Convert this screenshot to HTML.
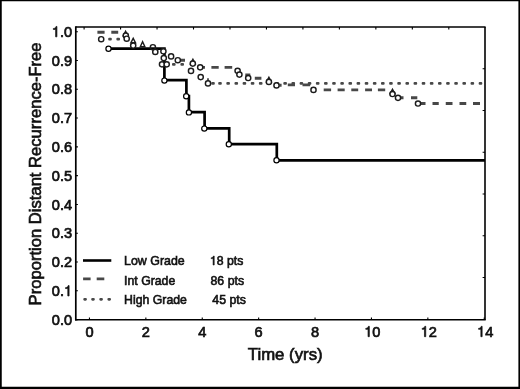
<!DOCTYPE html>
<html><head><meta charset="utf-8"><title>Distant Recurrence-Free</title>
<style>
html,body{margin:0;padding:0;background:#fff;}
body{width:520px;height:389px;overflow:hidden;font-family:"Liberation Sans",sans-serif;}
svg{display:block;filter:grayscale(1);}
text{font-family:"Liberation Sans",sans-serif;fill:#111;}
</style></head><body>
<svg width="520" height="389" viewBox="0 0 520 389">
<rect x="0" y="0" width="520" height="389" fill="#fff"/>
<path d="M0 0H520V389H0Z M1.75 1.3V386.85H518.4V1.3Z" fill="#000" fill-rule="evenodd"/>
<g stroke="#000" fill="none">
<path d="M75.8 26.25V320.55" stroke-width="1.7"/>
<path d="M75.0 319.8H485.7" stroke-width="1.6"/>
<path d="M75.8 27.0H485.6" stroke-width="1.5"/>
<path d="M485.0 27.0V319.8" stroke-width="1.6"/>
<path d="M75.8 319.60h2.1M75.8 290.81h2.1M75.8 262.02h2.1M75.8 233.23h2.1M75.8 204.44h2.1M75.8 175.65h2.1M75.8 146.86h2.1M75.8 118.07h2.1M75.8 89.28h2.1M75.8 60.49h2.1M75.8 31.70h2.1M89.45 319.8v-2.2M145.85 319.8v-2.2M202.25 319.8v-2.2M258.65 319.8v-2.2M315.05 319.8v-2.2M371.45 319.8v-2.2M427.85 319.8v-2.2M484.25 319.8v-2.2M84.10 27.0v2.4M120.57 27.0v2.4M157.04 27.0v2.4M193.51 27.0v2.4M229.98 27.0v2.4M266.45 27.0v2.4M302.92 27.0v2.4M339.39 27.0v2.4M375.86 27.0v2.4M412.33 27.0v2.4M448.80 27.0v2.4M485.0 68.76h-2.4M485.0 110.52h-2.4M485.0 152.28h-2.4M485.0 194.04h-2.4M485.0 235.80h-2.4M485.0 277.56h-2.4" stroke-width="1.1"/>
</g>
<g font-size="14.6" stroke="#111" stroke-width="0.7">
<text x="72.1" y="324.8" text-anchor="end">0.0</text>
<text x="63.98" y="296.0" text-anchor="end">0.</text><path d="M69.09 295.96L67.81 295.96L67.81 288.56L65.50 288.56L65.50 287.64C66.76 287.52 67.81 287.05 68.22 285.56L69.09 285.56Z" fill="#111"/>
<text x="72.1" y="267.2" text-anchor="end">0.2</text>
<text x="72.1" y="238.4" text-anchor="end">0.3</text>
<text x="72.1" y="209.6" text-anchor="end">0.4</text>
<text x="72.1" y="180.8" text-anchor="end">0.5</text>
<text x="72.1" y="152.0" text-anchor="end">0.6</text>
<text x="72.1" y="123.2" text-anchor="end">0.7</text>
<text x="72.1" y="94.4" text-anchor="end">0.8</text>
<text x="72.1" y="65.6" text-anchor="end">0.9</text>
<path d="M56.92 36.85L55.63 36.85L55.63 29.45L53.32 29.45L53.32 28.53C54.58 28.41 55.63 27.94 56.04 26.45L56.92 26.45Z" fill="#111"/><text x="72.1" y="36.9" text-anchor="end">.0</text>
<text x="89.5" y="336.7" text-anchor="middle">0</text>
<text x="145.8" y="336.7" text-anchor="middle">2</text>
<text x="202.2" y="336.7" text-anchor="middle">4</text>
<text x="258.6" y="336.7" text-anchor="middle">6</text>
<text x="315.1" y="336.7" text-anchor="middle">8</text>
<path d="M369.34 336.70L368.06 336.70L368.06 329.30L365.75 329.30L365.75 328.38C367.01 328.26 368.06 327.79 368.47 326.30L369.34 326.30Z" fill="#111"/><text x="372.35" y="336.7">0</text>
<path d="M425.74 336.70L424.46 336.70L424.46 329.30L422.15 329.30L422.15 328.38C423.41 328.26 424.46 327.79 424.87 326.30L425.74 326.30Z" fill="#111"/><text x="428.75" y="336.7">2</text>
<path d="M482.14 336.70L480.86 336.70L480.86 329.30L478.55 329.30L478.55 328.38C479.81 328.26 480.86 327.79 481.27 326.30L482.14 326.30Z" fill="#111"/><text x="485.15" y="336.7">4</text>
</g>
<g font-size="16.2" stroke="#111" stroke-width="0.65">
<text x="285.2" y="360" text-anchor="middle" textLength="74.8" lengthAdjust="spacingAndGlyphs">Time (yrs)</text>
<text transform="translate(40.8,173.9) rotate(-90)" text-anchor="middle" textLength="263.0" lengthAdjust="spacingAndGlyphs">Proportion Distant Recurrence-Free</text>
</g>
<g font-size="12.6" stroke="#111" stroke-width="0.6">
<text x="124.1" y="265" textLength="60.6" lengthAdjust="spacingAndGlyphs">Low Grade</text><path d="M214.21 265.00L213.10 265.00L213.10 258.61L211.11 258.61L211.11 257.82C212.19 257.72 213.10 257.31 213.45 256.03L214.21 256.03Z" fill="#111"/><text x="216.81" y="265" textLength="26.6" lengthAdjust="spacingAndGlyphs">8 pts</text>
<text x="124.1" y="285" textLength="51.2" lengthAdjust="spacingAndGlyphs">Int Grade</text><text x="210.5" y="285" textLength="33.6" lengthAdjust="spacingAndGlyphs">86 pts</text>
<text x="124.1" y="303.9" textLength="62.8" lengthAdjust="spacingAndGlyphs">High Grade</text><text x="212.3" y="303.9" textLength="33.6" lengthAdjust="spacingAndGlyphs">45 pts</text>
</g>
<path d="M83 260.5H111.3" stroke="#000" stroke-width="2.6" fill="none"/>
<path d="M83.1 278.9H90.6M96.7 278.9H104.3" stroke="#484848" stroke-width="2.6" fill="none"/>
<path d="M84.6 299.3h1M92.5 299.3h1M100.6 299.3h1M108.7 299.3h1" stroke="#484848" stroke-width="2.7" stroke-linecap="round" fill="none"/>
<g fill="#484848"><rect x="108.20" y="37.80" width="3.6" height="2.8" rx="1" ry="1"/><rect x="116.40" y="37.80" width="3.6" height="2.8" rx="1" ry="1"/><rect x="172.00" y="62.90" width="3.6" height="2.8" rx="1" ry="1"/><rect x="180.40" y="62.90" width="3.6" height="2.8" rx="1" ry="1"/><rect x="211.20" y="81.90" width="3.6" height="2.8" rx="1" ry="1"/><rect x="218.20" y="81.90" width="3.6" height="2.8" rx="1" ry="1"/><rect x="226.34" y="81.90" width="3.6" height="2.8" rx="1" ry="1"/><rect x="234.48" y="81.90" width="3.6" height="2.8" rx="1" ry="1"/><rect x="242.62" y="81.90" width="3.6" height="2.8" rx="1" ry="1"/><rect x="250.76" y="81.90" width="3.6" height="2.8" rx="1" ry="1"/><rect x="258.90" y="81.90" width="3.6" height="2.8" rx="1" ry="1"/><rect x="267.04" y="81.90" width="3.6" height="2.8" rx="1" ry="1"/><rect x="275.18" y="81.90" width="3.6" height="2.8" rx="1" ry="1"/><rect x="283.32" y="81.90" width="3.6" height="2.8" rx="1" ry="1"/><rect x="291.46" y="81.90" width="3.6" height="2.8" rx="1" ry="1"/><rect x="299.60" y="81.90" width="3.6" height="2.8" rx="1" ry="1"/><rect x="307.74" y="81.90" width="3.6" height="2.8" rx="1" ry="1"/><rect x="315.88" y="81.90" width="3.6" height="2.8" rx="1" ry="1"/><rect x="324.02" y="81.90" width="3.6" height="2.8" rx="1" ry="1"/><rect x="332.16" y="81.90" width="3.6" height="2.8" rx="1" ry="1"/><rect x="340.30" y="81.90" width="3.6" height="2.8" rx="1" ry="1"/><rect x="348.44" y="81.90" width="3.6" height="2.8" rx="1" ry="1"/><rect x="356.58" y="81.90" width="3.6" height="2.8" rx="1" ry="1"/><rect x="364.72" y="81.90" width="3.6" height="2.8" rx="1" ry="1"/><rect x="372.86" y="81.90" width="3.6" height="2.8" rx="1" ry="1"/><rect x="381.00" y="81.90" width="3.6" height="2.8" rx="1" ry="1"/><rect x="389.14" y="81.90" width="3.6" height="2.8" rx="1" ry="1"/><rect x="397.28" y="81.90" width="3.6" height="2.8" rx="1" ry="1"/><rect x="405.42" y="81.90" width="3.6" height="2.8" rx="1" ry="1"/><rect x="413.56" y="81.90" width="3.6" height="2.8" rx="1" ry="1"/><rect x="421.70" y="81.90" width="3.6" height="2.8" rx="1" ry="1"/><rect x="429.84" y="81.90" width="3.6" height="2.8" rx="1" ry="1"/><rect x="437.98" y="81.90" width="3.6" height="2.8" rx="1" ry="1"/><rect x="446.12" y="81.90" width="3.6" height="2.8" rx="1" ry="1"/><rect x="454.26" y="81.90" width="3.6" height="2.8" rx="1" ry="1"/><rect x="462.40" y="81.90" width="3.6" height="2.8" rx="1" ry="1"/><rect x="470.54" y="81.90" width="3.6" height="2.8" rx="1" ry="1"/><rect x="478.68" y="81.90" width="3.6" height="2.8" rx="1" ry="1"/></g>
<path d="M97.4 32.3H104.6M111.3 32.3H118.2M181 60.2H185M203 67.4H205M211.4 67.4H218.7M224.6 67.4H232.2M245.3 74.9H250.3M254.8 78.2H261.4M279.3 85.2H281.6M287.8 84.9H295M302.5 84.9H310.2M323.7 89.9H331.1M337.6 89.9H344.7M351.3 89.9H358.2M365.1 89.9H372M377.9 89.9H385.2M400 97.8H403.5M411 97.8H417.3M420 103.5H425.5M432.5 103.5H438.75M445.75 103.5H452.5M459.5 103.5H466.25M473 103.5H480" stroke="#484848" stroke-width="2.9" fill="none"/>
<path d="M108.5 48.7L164.4 48.7L164.4 80.2L186.4 80.2L186.4 96.2L188.9 96.2L188.9 112.2L204.6 112.2L204.6 128.3L229.2 128.3L229.2 144.2L276.8 144.2L276.8 160.3L485 160.3" stroke="#000" stroke-width="2.7" fill="none" stroke-linejoin="miter"/>
<g fill="#fff" stroke="#1c1c1c" stroke-width="1.45">
<path d="M208 78.2V81"/><path d="M125.6 31.3l2.3 4.4h-4.6z"/><path d="M133.2 38.3l2.3 4.4h-4.6z"/><path d="M142.6 41.8l2.3 5.0h-4.6z"/><path d="M192.9 59.4l2.3 4.4h-4.6z"/><path d="M268.9 77.3l2.3 4.4h-4.6z"/><path d="M392.5 89.3l2.3 4.2h-4.6z"/>
<circle cx="101.2" cy="39.2" r="2.6"/><circle cx="125.8" cy="35.6" r="2.6"/><circle cx="126.7" cy="38.7" r="2.6"/><circle cx="133.2" cy="45.5" r="2.6"/><circle cx="152.9" cy="47.2" r="2.6" fill="none"/><circle cx="155.3" cy="51.9" r="2.6"/><circle cx="163.4" cy="51.3" r="2.6"/><circle cx="163.8" cy="58" r="2.6"/><circle cx="162" cy="64.3" r="2.6"/><circle cx="166.7" cy="64.3" r="2.6"/><circle cx="171.1" cy="56.4" r="2.6"/><circle cx="177.8" cy="60.2" r="2.6"/><circle cx="192.8" cy="63.6" r="2.6"/><circle cx="191" cy="70.9" r="2.6"/><circle cx="200.2" cy="67.3" r="2.6"/><circle cx="200.7" cy="77.1" r="2.6"/><circle cx="208" cy="83.4" r="2.6"/><circle cx="237.6" cy="70.8" r="2.6"/><circle cx="239.4" cy="74.6" r="2.6"/><circle cx="248.2" cy="78" r="2.6"/><circle cx="268.9" cy="81.9" r="2.6"/><circle cx="276.5" cy="85.4" r="2.6"/><circle cx="313.5" cy="89.9" r="2.6"/><circle cx="392.5" cy="94" r="2.6"/><circle cx="398" cy="97.8" r="2.6"/><circle cx="418" cy="103.5" r="2.6"/>
</g>
<g fill="#fff" stroke="#000" stroke-width="1.2">
<circle cx="108.5" cy="48.7" r="2.6"/><circle cx="164.4" cy="80.6" r="2.6"/><circle cx="186.2" cy="96.2" r="2.6"/><circle cx="188.9" cy="112.4" r="2.6"/><circle cx="204.3" cy="128.6" r="2.6"/><circle cx="228.8" cy="144.3" r="2.6"/><circle cx="276.5" cy="160.3" r="2.6"/>
</g>
</svg>
</body></html>
